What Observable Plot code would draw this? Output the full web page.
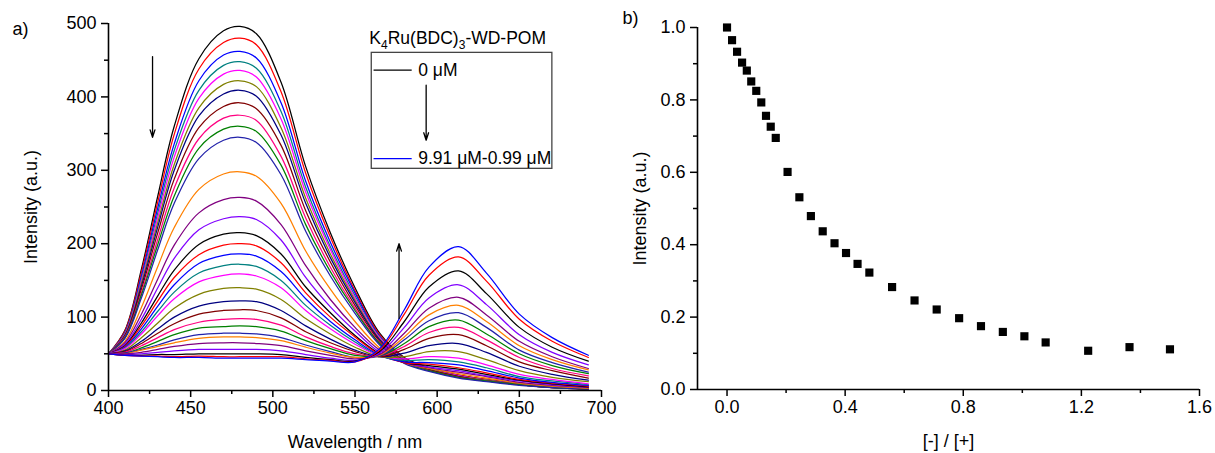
<!DOCTYPE html>
<html><head><meta charset="utf-8">
<script src="https://cdn.jsdelivr.net/npm/d3@7"></script>
<script src="https://cdn.jsdelivr.net/npm/@observablehq/plot@0.6"></script>
<style>
html,body{margin:0;padding:0;background:#fff;}
#fig{position:relative;width:1215px;height:453px;overflow:hidden;}
#fig svg{position:absolute;top:0;}
</style></head><body><div id="fig"></div>
<script>
// ---------- Panel a: emission spectra ----------
const wavelengths = [400,410,420,430,440,455,470,480,490,505,520,535,550,565,580,595,613,630,650,670,692];
const spectra = [
  [50,82,165,265,360,452,490,496,486,420,305,215,140,78,45,31,21,15,9,5,2],
  [50,81,161,257,349,438,474,480,471,407,296,209,136,76,44,30,21,15,9,5,2],
  [50,79,156,249,336,422,457,462,453,392,285,202,133,74,43,30,20,14,9,5,2],
  [50,78,152,242,327,409,443,448,439,380,277,196,129,73,43,29,20,14,8,5,2],
  [50,77,149,236,318,398,431,436,427,370,270,192,126,72,42,29,20,14,8,5,2],
  [50,76,146,229,308,385,417,422,414,358,262,186,123,70,41,29,19,14,8,5,2],
  [50,75,142,223,300,374,404,409,401,348,255,181,120,69,41,28,19,13,8,4,2],
  [50,74,138,215,288,358,387,392,384,334,245,175,116,67,40,28,19,13,8,4,2],
  [50,73,133,206,276,343,371,375,368,319,235,168,112,65,39,27,18,13,8,4,2],
  [50,72,130,199,265,330,356,360,353,307,226,162,109,64,38,27,18,13,8,4,2],
  [50,71,126,192,255,316,341,345,338,294,217,156,105,62,37,26,17,12,7,4,2],
  [50,67,113,169,222,274,295,298,292,255,190,138,94,58,38,30,23,17,10,6,3],
  [50,65,104,152,198,242,260,263,258,226,170,124,86,55,38,31,25,19,11,7,4],
  [50,63,97,140,180,219,234,237,233,205,154,114,81,52,38,32,27,20,13,8,5],
  [50,61,92,129,164,199,213,215,211,186,141,106,75,50,38,34,29,22,14,9,5],
  [50,60,88,122,154,185,198,200,197,174,133,100,73,49,38,36,31,24,15,10,6],
  [50,59,84,115,144,173,184,186,183,162,125,94,69,48,39,38,35,27,17,11,7],
  [50,58,80,108,134,160,170,172,169,150,116,89,66,47,41,42,39,31,19,13,8],
  [50,57,77,102,125,148,157,159,156,140,109,84,63,47,43,46,44,35,22,15,9],
  [50,55,72,92,112,131,139,140,138,124,98,77,59,46,46,53,53,42,27,18,12],
  [50,54,67,84,100,115,121,122,121,109,88,70,55,46,51,61,64,52,33,22,14],
  [50,53,64,78,91,104,109,110,109,99,80,65,53,46,56,71,76,61,39,27,17],
  [50,52,61,72,83,93,97,98,97,89,73,60,50,47,60,79,86,69,45,30,20],
  [50,51,58,67,76,85,87,88,87,81,68,57,48,47,64,87,96,77,50,34,23],
  [50,51,56,62,69,76,78,78,77,72,62,53,45,47,69,95,106,86,55,38,25],
  [50,50,55,60,65,71,73,73,72,68,59,51,45,48,73,103,116,94,61,42,28],
  [50,50,52,56,60,64,65,65,64,61,54,48,43,49,78,112,127,103,67,46,30],
  [50,49,50,52,54,56,56,56,56,54,49,44,41,51,86,126,144,117,76,52,35],
  [50,48,48,49,49,50,50,50,50,49,45,42,40,53,94,141,163,132,86,59,40],
  [50,48,47,47,46,47,46,46,46,46,43,41,39,55,104,157,182,149,97,67,45],
  [50,48,47,46,45,45,44,44,44,44,42,40,39,57,110,168,196,160,104,72,48]
];
const curveColors = ["#000000","#FF0000","#0000FF","#008080","#FF00FF","#808000","#000080",
                     "#800000","#FF0080","#008000","#2222AA","#FF8000","#800080","#8000FF"];
const xTicksA = [400,450,500,550,600,650,700];
const xMinorA = [425,475,525,575,625,675];
const yTicksA = [0,100,200,300,400,500];
const yMinorA = [50,150,250,350,450];
const legendTitle = "K4Ru(BDC)3-WD-POM";
const legendLabels = ["0 μM", "9.91 μM-0.99 μM"];
const legendColors = ["#000000", "#0000FF"];
// annotation anchors (data units)
const legendBox = [{x1: 560.2, x2: 670.1, y1: 302, y2: 460}];
const legendRows = [{y: 436.4}, {y: 316}];
const arrowsA = [
  {x1: 426.8, y1: 455, x2: 426.8, y2: 345},
  {x1: 576.8, y1: 98, x2: 576.8, y2: 200},
  {x1: 593.3, y1: 416, x2: 593.3, y2: 341}
];

// ---------- Panel b: normalized intensity ----------
const ratio = [0, 0.017, 0.034, 0.051, 0.067, 0.082, 0.099, 0.116, 0.132, 0.148, 0.165,
  0.205, 0.245, 0.284, 0.324, 0.364, 0.403, 0.442, 0.482, 0.559, 0.635, 0.710, 0.786,
  0.860, 0.934, 1.007, 1.079, 1.223, 1.363, 1.500];
const intensity = [1.0, 0.965, 0.933, 0.903, 0.881, 0.851, 0.825, 0.793, 0.756, 0.726, 0.695,
  0.601, 0.531, 0.479, 0.437, 0.404, 0.377, 0.347, 0.323, 0.283, 0.246, 0.221, 0.197,
  0.175, 0.159, 0.147, 0.130, 0.107, 0.117, 0.111];
const xTicksB = [0, 0.4, 0.8, 1.2, 1.6];
const xMinorB = [0.2, 0.6, 1.0, 1.4];
const yTicksB = [0, 0.2, 0.4, 0.6, 0.8, 1.0];
const yMinorB = [0.1, 0.3, 0.5, 0.7, 0.9];

const FONT = "'Liberation Sans', Arial, Helvetica, sans-serif";
const baseStyle = {fontFamily: FONT, fontSize: "18px", color: "#000", background: "transparent", overflow: "visible"};
const fig = document.getElementById("fig");

const rowsA = spectra.flatMap((s, k) => s.map((v, j) => ({w: wavelengths[j], v, k})));
const lineMarks = spectra.map((s, k) =>
  Plot.line(rowsA.filter(r => r.k === k), {x: "w", y: "v", stroke: curveColors[k % curveColors.length], strokeWidth: 1.25, curve: "catmull-rom"}));

const axisCommon = {stroke: "#000", strokeWidth: 1.5};
const plotA = Plot.plot({
  width: 615, height: 453,
  marginLeft: 108, marginRight: 14, marginTop: 23, marginBottom: 63,
  style: baseStyle,
  x: {domain: [400, 700]},
  y: {domain: [0, 500]},
  marks: [
    ...lineMarks,
    Plot.ruleX([400], {stroke: "#000", strokeWidth: 1.6}),
    Plot.ruleY([0], {stroke: "#000", strokeWidth: 1.6}),
    Plot.axisX(xTicksA, {...axisCommon, tickSize: 7, tickPadding: 4, label: "Wavelength / nm", labelAnchor: "center", labelOffset: 57, labelArrow: "none"}),
    Plot.axisX(xMinorA, {...axisCommon, tickSize: 4, tickFormat: () => "", label: null}),
    Plot.axisY(yTicksA, {...axisCommon, tickSize: 7, tickPadding: 5, label: "Intensity (a.u.)", labelAnchor: "center", labelOffset: 84, labelArrow: "none"}),
    Plot.axisY(yMinorA, {...axisCommon, tickSize: 4, tickFormat: () => "", label: null}),
    Plot.rect(legendBox, {x1: "x1", x2: "x2", y1: "y1", y2: "y2", fill: "none", stroke: "#444", strokeWidth: 1.3}),
    Plot.ruleY(legendRows, {y: "y", x1: 561.6, x2: 584.8, stroke: (d, i) => legendColors[i], strokeWidth: 1.2}),
    Plot.text(legendRows, {x: 588.5, y: "y", text: (d, i) => legendLabels[i], textAnchor: "start", fontSize: 17.5}),
    Plot.text([legendTitle], {x: 612.5, y: 480, fontSize: 17.5}),
    Plot.arrow(arrowsA, {x1: "x1", y1: "y1", x2: "x2", y2: "y2", stroke: "#000", strokeWidth: 1.3, headLength: 9, headAngle: 36}),
    Plot.text(["a)"], {frameAnchor: "top-left", dx: -96, dy: -1, textAnchor: "start", lineAnchor: "top"})
  ]
});
plotA.style.left = "0px";
fig.appendChild(plotA);

// subscripts in legend title
plotA.querySelectorAll("text").forEach(t => {
  if (t.textContent === legendTitle) {
    t.textContent = "";
    const parts = [["K", 0], ["4", 1], ["Ru(BDC)", 0], ["3", 1], ["-WD-POM", 0]];
    let shifted = false;
    for (const [s, sub] of parts) {
      const ts = document.createElementNS("http://www.w3.org/2000/svg", "tspan");
      ts.textContent = s;
      if (sub) { ts.setAttribute("font-size", "12"); ts.setAttribute("dy", "5"); shifted = true; }
      else if (shifted) { ts.setAttribute("dy", "-5"); shifted = false; }
      t.appendChild(ts);
    }
  }
});

const plotB = Plot.plot({
  width: 605, height: 453,
  marginLeft: 87, marginRight: 16, marginTop: 27, marginBottom: 64,
  style: baseStyle,
  x: {domain: [-0.1, 1.6]},
  y: {domain: [0, 1.0]},
  marks: [
    Plot.ruleX([-0.1], {stroke: "#000", strokeWidth: 1.6}),
    Plot.ruleY([0], {stroke: "#000", strokeWidth: 1.6}),
    Plot.axisX(xTicksB, {...axisCommon, tickSize: 7, tickPadding: 4, tickFormat: d3.format(".1f"), label: "[-] / [+]", labelAnchor: "center", labelOffset: 57, labelArrow: "none"}),
    Plot.axisX(xMinorB, {...axisCommon, tickSize: 4, tickFormat: () => "", label: null}),
    Plot.axisY(yTicksB, {...axisCommon, tickSize: 7, tickPadding: 5, tickFormat: d3.format(".1f"), label: "Intensity (a.u.)", labelAnchor: "center", labelOffset: 64, labelArrow: "none"}),
    Plot.axisY(yMinorB, {...axisCommon, tickSize: 4, tickFormat: () => "", label: null}),
    Plot.dot(ratio.map((r, i) => ({r, v: intensity[i]})), {x: "r", y: "v", symbol: "square", r: 4.6, fill: "#000", stroke: "none"}),
    Plot.text(["b)"], {frameAnchor: "top-left", dx: -75, dy: -16, textAnchor: "start", lineAnchor: "top"})
  ]
});
plotB.style.left = "610px";
fig.appendChild(plotB);
</script>
</body></html>
